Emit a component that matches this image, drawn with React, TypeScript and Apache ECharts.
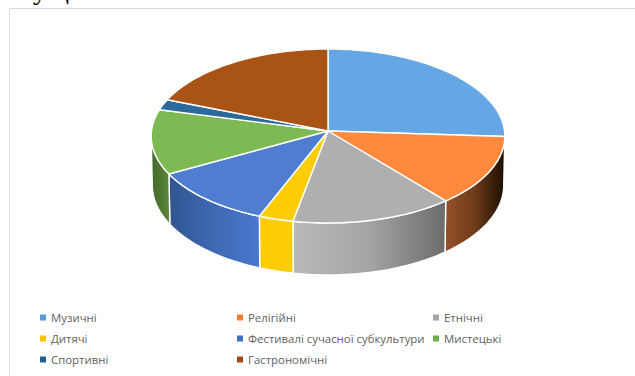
import React, { useEffect, useRef } from "react";
import * as echarts from "echarts";

const categories = ["Музичні", "Релігійні", "Етнічні", "Дитячі", "Фестивалі сучасної субкультури", "Мистецькі", "Спортивні", "Гастрономічні"];
const values = [26, 13, 14, 3, 11, 12, 2, 19];
const legendColors = ["#5b9bd5", "#ed7d31", "#a5a5a5", "#ffc000", "#4472c4", "#70ad47", "#255e91", "#9e480e"];
const topColors = ["#65a6e4", "#ff893d", "#afafaf", "#ffcd08", "#4e7dd2", "#7dba53", "#2d6a9c", "#a95315"];
const wallStops: (string[] | null)[] = [
  null,
  ["#96522a", "#6e3c18", "#1c0e02"],
  ["#bababa", "#a4a4a4", "#6c6c6c"],
  ["#ffcd08", "#ffcd08", "#ffcd08"],
  ["#30558f", "#3f69b4", "#4a78cf"],
  ["#46682c", "#4f7632", "#5d8b3c"],
  null,
  null,
];
const legendColumns = [
  [categories[0], categories[3], categories[6]],
  [categories[1], categories[4], categories[7]],
  [categories[2], categories[5]],
];
const legendLefts = [40, 237, 433];

const CX = 328, CY = 131, RX = 176.5, RY = 86.7, K = 0.0575, WALL = 49;
const VISIBLE_FROM = 93.3, VISIBLE_TO = 266.7;

function project(deg: number, wall: boolean): number[] {
  const t = (deg * Math.PI) / 180;
  const u = Math.sin(t);
  const v = -Math.cos(t);
  const p = 1 / (1 - K * v);
  const shrink = wall ? 0.994 : 1;
  return [CX + RX * u * p * shrink, CY + RY * v * p + (wall ? WALL * p : 0)];
}

function arc(from: number, to: number, wall: boolean): number[][] {
  const n = Math.max(2, Math.ceil(Math.abs(to - from) / 1.5));
  const pts: number[][] = [];
  for (let i = 0; i <= n; i++) pts.push(project(from + ((to - from) * i) / n, wall));
  return pts;
}

const total = values.reduce((a, b) => a + b, 0);
const starts: number[] = [];
values.reduce((acc, v, i) => {
  starts[i] = (acc / total) * 360;
  return acc + v;
}, 0);

function sliceRenderer(index: number) {
  return () => {
    const from = starts[index];
    const to = from + (values[index] / total) * 360;
    const children: any[] = [];
    const a = Math.max(from, VISIBLE_FROM);
    const b = Math.min(to, VISIBLE_TO);
    const stops = wallStops[index];
    if (b > a && stops) {
      children.push({
        type: "polygon",
        shape: { points: [...arc(a, b, false), ...arc(b, a, true)] },
        style: {
          fill: {
            type: "linear", x: 0, y: 0, x2: 1, y2: 0,
            colorStops: stops.map((c, i) => ({ offset: i / (stops.length - 1), color: c })),
          },
          stroke: "#ffffff",
          lineWidth: 1.4,
        },
      });
    }
    children.push({
      type: "polygon",
      shape: { points: [[CX, CY], ...arc(from, to, false)] },
      style: { fill: topColors[index], stroke: "#ffffff", lineWidth: 1.4 },
    });
    return { type: "group", children };
  };
}

export default function App() {
  const ref = useRef<HTMLDivElement>(null);
  useEffect(() => {
    document.body.style.margin = "0";
    document.body.style.overflow = "hidden";
    const chart = echarts.init(ref.current!, undefined, { renderer: "svg" });
    chart.setOption({
      animation: false,
      backgroundColor: "#ffffff",
      legend: legendColumns.map((col, i) => ({
        data: col,
        orient: "vertical",
        left: legendLefts[i],
        top: 310,
        padding: 0,
        itemGap: 6,
        itemWidth: 6,
        itemHeight: 6,
        icon: "rect",
        selectedMode: false,
        textStyle: { color: "#5f5f5f", fontSize: 11.4, fontFamily: "Open Sans", padding: 0, lineHeight: 15 },
      })),
      graphic: [
        { type: "line", shape: { x1: 9.5, y1: 8.5, x2: 635, y2: 8.5 }, style: { stroke: "#d9d9d9", lineWidth: 1 } },
        { type: "line", shape: { x1: 9.5, y1: 8.5, x2: 9.5, y2: 376 }, style: { stroke: "#d9d9d9", lineWidth: 1 } },
        { type: "text", x: 33, y: -25, style: { text: "у ц", fill: "#000000", fontSize: 28, fontFamily: "Liberation Serif" } },
      ],
      series: categories.map((name, i) => ({
        type: "custom",
        name,
        coordinateSystem: "none",
        data: [[values[i]]],
        silent: true,
        itemStyle: { color: legendColors[i] },
        renderItem: sliceRenderer(i),
      })),
    });
    return () => chart.dispose();
  }, []);
  return <div ref={ref} style={{ position: "absolute", left: 0, top: 0, width: 635, height: 376 }} />;
}
